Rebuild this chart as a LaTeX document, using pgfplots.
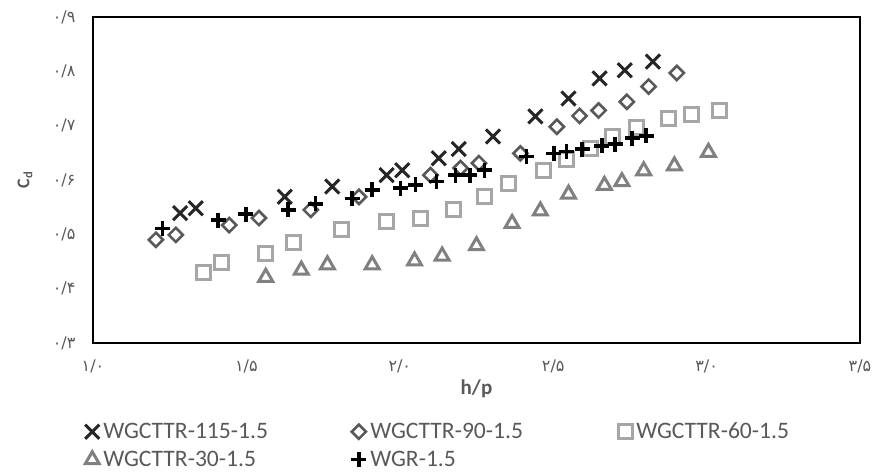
\documentclass[border=0pt]{standalone}
\usepackage{pgfplots}
\pgfplotsset{compat=1.18}
\usepackage{fontspec}
\setmainfont{Carlito}
\newfontfamily\fa[Script=Arabic]{DejaVu Sans}
\definecolor{txt}{HTML}{595959}
\definecolor{cX}{HTML}{262626}
\definecolor{cD}{HTML}{595959}
\definecolor{cS}{HTML}{A6A6A6}
\definecolor{cT}{HTML}{808080}
\begin{document}
\begin{tikzpicture}
\begin{axis}[
  at={(0,0)}, anchor=south west,
  width=767pt, height=326pt, scale only axis,
  xmin=1, xmax=3.5, ymin=0.3, ymax=0.9,
  xtick={1,1.5,2,2.5,3,3.5},
  ytick={0.3,0.4,0.5,0.6,0.7,0.8,0.9},
  xticklabels={۱/۰,۱/۵,۲/۰,۲/۵,۳/۰,۳/۵},
  yticklabels={۰/۳,۰/۴,۰/۵,۰/۶,۰/۷,۰/۸,۰/۹},
  tick style={draw=none},
  axis line style={draw=black, line width=1.8pt},
  ticklabel style={font=\fa\fontsize{16}{18}\selectfont, text=txt},
  yticklabel style={xshift=-14pt},
  xticklabel style={yshift=-13pt},
  xlabel={\textbf{h/p}},
  xlabel style={at={(axis description cs:0.5,0)}, anchor=center, yshift=-46pt, font=\fontsize{21}{24}\selectfont, text=txt},
  ylabel={\textbf{C\textsubscript{d}}},
  ylabel style={at={(axis description cs:-0.0887,0.5)}, anchor=center, font=\fontsize{18}{20}\selectfont, text=txt},
  legend columns=3,
  legend style={at={(rel axis cs:0,0)}, anchor=north west, xshift=-8pt, yshift=-78.5pt,
    draw=none, fill=none, inner sep=0pt, row sep=8pt,
    font=\fontsize{23.6}{26}\selectfont, text=txt,
    nodes={inner ysep=1pt, inner xsep=4pt, text width=244pt, align=left, text height=16pt, text depth=2pt}},
  legend image code/.code={\draw[#1] plot coordinates {(7pt,0pt)};},
]
\addplot[only marks, mark=x, mark size=10pt, mark options={draw=cX, line width=3pt}] coordinates {
(1.284,0.539) (1.335,0.548) (1.625,0.569) (1.780,0.588) (1.957,0.609) (2.008,0.618)
(2.127,0.640) (2.192,0.657) (2.304,0.680) (2.442,0.717) (2.550,0.750) (2.651,0.787)
(2.733,0.802) (2.825,0.818)};
\addlegendentry{WGCTTR-115-1.5}
\addplot[only marks, mark=square, mark size=5pt, mark options={draw=cD, line width=2.6pt, rotate=45}] coordinates {
(1.205,0.490) (1.270,0.499) (1.444,0.517) (1.541,0.530) (1.710,0.545) (1.867,0.569)
(2.100,0.609) (2.198,0.622) (2.258,0.631) (2.393,0.649) (2.512,0.698) (2.586,0.718)
(2.648,0.728) (2.740,0.744) (2.811,0.772) (2.903,0.797)};
\addlegendentry{WGCTTR-90-1.5}
\addplot[only marks, mark=square, mark size=7pt, mark options={draw=cS, line width=3pt}] coordinates {
(1.360,0.429) (1.419,0.448) (1.563,0.465) (1.655,0.485) (1.811,0.508) (1.957,0.523)
(2.068,0.530) (2.174,0.546) (2.277,0.569) (2.355,0.594) (2.469,0.618) (2.543,0.637)
(2.621,0.658) (2.692,0.680) (2.773,0.697) (2.876,0.714) (2.952,0.720) (3.042,0.728)};
\addlegendentry{WGCTTR-60-1.5}
\addplot[only marks, mark=triangle, mark size=8pt, mark options={draw=cT, line width=3pt}] coordinates {
(1.563,0.421) (1.679,0.434) (1.764,0.444) (1.910,0.444) (2.048,0.451) (2.138,0.460)
(2.250,0.479) (2.366,0.520) (2.458,0.543) (2.550,0.574) (2.667,0.590) (2.724,0.597)
(2.795,0.617) (2.895,0.626) (3.006,0.651)};
\addlegendentry{WGCTTR-30-1.5}
\addplot[only marks, mark=+, mark size=7.5pt, mark options={draw=black, line width=3.5pt}] coordinates {
(1.227,0.511) (1.408,0.526) (1.498,0.537) (1.636,0.545) (1.726,0.556) (1.845,0.566)
(1.910,0.582) (2.003,0.585) (2.051,0.591) (2.120,0.597) (2.182,0.609) (2.228,0.609)
(2.276,0.618) (2.413,0.643) (2.502,0.649) (2.543,0.652) (2.594,0.657) (2.659,0.663)
(2.702,0.666) (2.757,0.677) (2.803,0.681)};
\addlegendentry{WGR-1.5}
\end{axis}
\pgfresetboundingbox
\path[use as bounding box] (-93pt,-130pt) rectangle (788pt,343pt);
\end{tikzpicture}
\end{document}
